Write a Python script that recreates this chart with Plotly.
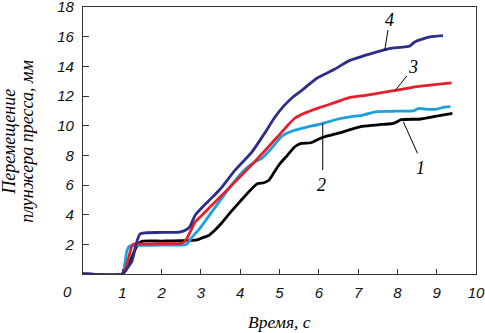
import plotly.graph_objects as go

# Curve 1 (black)
x1 = [0, 1.0, 1.1, 1.2, 1.3, 1.4, 1.5, 2.0, 2.5, 2.9, 3.05, 3.2, 3.36, 3.5, 3.75, 4.0, 4.33, 4.45, 4.6, 4.72,
      4.85, 5.0, 5.2, 5.39, 5.55, 5.8, 6.0, 6.15, 6.5, 7.1, 7.6, 7.9, 8.1, 8.6, 9.1, 9.4]
y1 = [0, 0, 0.3, 0.85, 1.5, 2.0, 2.2, 2.22, 2.24, 2.3, 2.45, 2.6, 2.97, 3.35, 4.15, 4.9, 5.85, 6.1, 6.15, 6.3,
      6.8, 7.4, 8.0, 8.58, 8.8, 8.85, 9.1, 9.25, 9.5, 9.95, 10.08, 10.15, 10.4, 10.45, 10.7, 10.83]

# Curve 2 (light blue)
x2 = [0, 1.0, 1.06, 1.12, 1.2, 1.5, 2.0, 2.5, 2.64, 2.75, 2.98, 3.2, 3.5, 3.87, 4.1, 4.38, 4.55, 4.72, 4.9,
      5.06, 5.39, 5.7, 6.11, 6.5, 6.79, 7.1, 7.47, 7.8, 8.2, 8.4, 8.55, 8.75, 9.0, 9.2, 9.35]
y2 = [0, 0, 0.6, 1.6, 1.9, 1.93, 1.94, 1.95, 2.0, 2.4, 3.1, 3.9, 5.0, 6.3, 7.0, 7.57, 7.8, 8.25, 8.8,
      9.3, 9.7, 9.9, 10.16, 10.45, 10.6, 10.7, 10.95, 10.97, 10.98, 11.0, 11.17, 11.1, 11.12, 11.25, 11.28]

# Curve 3 (red)
x3 = [0, 1.0, 1.1, 1.18, 1.27, 1.5, 2.0, 2.5, 2.6, 2.72, 2.85, 3.0, 3.4, 3.87, 4.33, 4.72, 5.0, 5.2, 5.39,
      5.6, 6.0, 6.4, 6.8, 7.2, 7.64, 8.0, 8.49, 9.0, 9.38]
y3 = [0, 0, 0.5, 1.3, 2.0, 2.02, 2.04, 2.07, 2.2, 2.8, 3.5, 3.9, 4.95, 6.22, 7.46, 8.58, 9.4, 10.0, 10.5,
      10.8, 11.2, 11.55, 11.9, 12.05, 12.25, 12.4, 12.63, 12.78, 12.88]

# Curve 4 (dark blue)
x4 = [0, 1.0, 1.1, 1.25, 1.35, 1.45, 1.6, 2.0, 2.45, 2.6, 2.72, 2.85, 3.0, 3.3, 3.5, 3.87, 4.29, 4.6, 4.89,
      5.1, 5.35, 5.6, 5.95, 6.4, 6.79, 7.2, 7.64, 7.9, 8.15, 8.3, 8.45, 8.83, 9.16]
y4 = [0, 0, 0.3, 0.9, 2.0, 2.7, 2.78, 2.8, 2.82, 2.95, 3.2, 3.95, 4.4, 5.2, 5.75, 7.0, 8.2, 9.4, 10.6,
      11.3, 11.95, 12.45, 13.2, 13.8, 14.4, 14.75, 15.1, 15.25, 15.3, 15.35, 15.65, 15.98, 16.07]

series = [(x1, y1, "#000000"), (x2, y2, "#1BA0DE"), (x3, y3, "#E3202B"), (x4, y4, "#2E2D87")]

x_ticks = [1, 2, 3, 4, 5, 6, 7, 8, 9, 10]
y_ticks = [2, 4, 6, 8, 10, 12, 14, 16, 18]

# Curve labels and leader lines
lab_text = ["1", "2", "3", "4"]
lab_x = [8.58, 6.07, 8.40, 7.81]
lab_y = [7.13, 6.0, 13.98, 17.13]
lead_x0 = [8.15, 6.10, 7.94, 7.68]
lead_y0 = [10.27, 10.16, 12.36, 15.1]
lead_x1 = [8.51, 6.10, 8.24, 7.76]
lead_y1 = [8.14, 7.01, 13.35, 16.45]

fig = go.Figure()
for xs, ys, c in series:
    fig.add_trace(go.Scatter(x=xs, y=ys, mode="lines",
                             line=dict(color=c, width=2.8, shape="spline", smoothing=0.6),
                             showlegend=False, hoverinfo="skip"))

for i in range(4):
    fig.add_shape(type="line", x0=lead_x0[i], y0=lead_y0[i], x1=lead_x1[i], y1=lead_y1[i],
                  xref="x", yref="y", line=dict(color="#000000", width=1))
    fig.add_annotation(x=lab_x[i], y=lab_y[i], xref="x", yref="y", text=lab_text[i],
                       showarrow=False,
                       font=dict(family="Liberation Serif", size=18, color="#000", style="italic"))

axis_font = dict(family="Liberation Sans", size=15, color="#111", style="italic")

common = dict(ticks="inside", tickwidth=1, tickcolor="#333", showline=True, linecolor="#333",
              linewidth=1.2, mirror=True, showgrid=False, zeroline=False, tickfont=axis_font,
              automargin=False, ticklabeloverflow="allow")
fig.update_xaxes(range=[0, 10], tickvals=x_ticks, ticklen=5, ticklabelstandoff=5, **common)
fig.update_yaxes(range=[0, 18], tickvals=y_ticks, ticklen=6, ticklabelstandoff=5, **common)

title_font = dict(family="Liberation Serif", size=17.5, color="#000", style="italic")
ytitle_font = dict(family="Liberation Serif", size=18, color="#000", style="italic")
fig.add_annotation(text="0", x=-16 / 393, y=-17 / 267, xref="paper", yref="paper",
                   showarrow=False, font=axis_font, xanchor="center", yanchor="middle")
fig.add_annotation(text="Время, с", x=0.5, y=-48 / 267, xref="paper", yref="paper",
                   showarrow=False, font=title_font, xanchor="center", yanchor="middle")
fig.add_annotation(text="Перемещение", x=-74 / 393, y=0.495,
                   xref="paper", yref="paper", textangle=-90, showarrow=False,
                   font=ytitle_font, xanchor="center", yanchor="middle")
fig.add_annotation(text="плунжера пресса, мм", x=-56 / 393, y=0.495,
                   xref="paper", yref="paper", textangle=-90, showarrow=False,
                   font=ytitle_font, xanchor="center", yanchor="middle")

fig.update_layout(width=485, height=333, margin=dict(l=83, r=9, t=7, b=59),
                  plot_bgcolor="white", paper_bgcolor="white")

fig.write_html("out.html", config={"displayModeBar": False},
               post_script="document.body.style.margin='0';")
